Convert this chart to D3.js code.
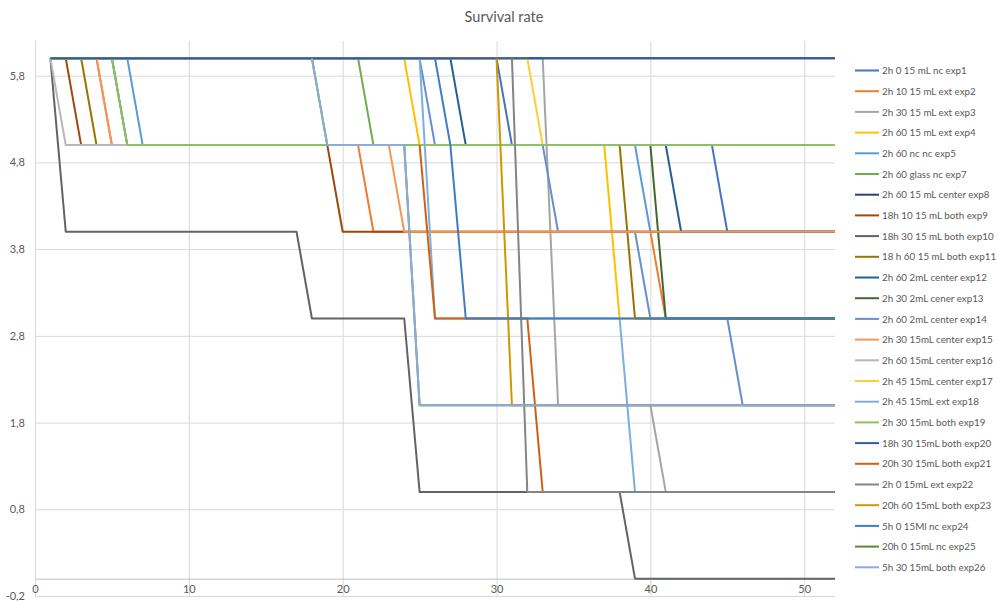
<!DOCTYPE html>
<html><head><meta charset="utf-8">
<script src="https://cdn.jsdelivr.net/npm/d3@7"></script>
<style>body{margin:0;background:#fff}svg{display:block}</style>
</head><body><svg id="c" width="997" height="601"></svg>
<script>
const categories = [1,2,3,4,5,6,7,8,9,10,11,12,13,14,15,16,17,18,19,20,21,22,23,24,25,26,27,28,29,30,31,32,33,34,35,36,37,38,39,40,41,42,43,44,45,46,47,48,49,50,51,52];
const seriesNames = ["2h 0 15 mL nc exp1","2h 10 15 mL ext exp2","2h 30 15 mL ext exp3","2h 60 15 mL ext exp4","2h 60 nc nc exp5","2h 60 glass nc exp7","2h 60 15 mL center exp8","18h 10 15 mL both exp9","18h 30 15 mL both exp10","18 h 60 15 mL both exp11","2h 60 2mL center exp12","2h 30 2mL cener exp13","2h 60 2mL center exp14","2h 30 15mL center exp15","2h 60 15mL center exp16","2h 45 15mL center exp17","2h 45 15mL ext exp18","2h 30 15mL both exp19","18h 30 15mL both exp20","20h 30 15mL both exp21","2h 0 15mL ext exp22","20h 60 15mL both exp23","5h 0 15Ml nc exp24","20h 0 15mL nc exp25","5h 30 15mL both exp26"];
const seriesColors = ["#4472C4","#ED7D31","#A5A5A5","#FFC000","#5B9BD5","#70AD47","#264478","#9E480E","#636363","#997300","#255E91","#43682B","#698ED0","#F1975A","#B7B7B7","#FFCD33","#7CAFDD","#8CC168","#335AA1","#D26012","#848484","#CC9A00","#3F7DC2","#5A8A39","#8FAADC"];
const yTicks = [-0.2,0.8,1.8,2.8,3.8,4.8,5.8];
const xTicks = [0,10,20,30,40,50];
const _ = null;

const exp1 = [6,6,6,6,6,6,6,6,6,6, 6,6,6,6,6,6,6,6,6,6, 6,6,6,6,6,6,6,6,6,6, 5,5,5,5,5,5,5,5,5,5, 5,5,5,5,4,4,4,4,4,4, 4,4];
const exp2 = [6,6,6,6,5,5,5,5,5,5, 5,5,5,5,5,5,5,5,5,5, 5,4,4,4,4,4,4,4,4,4, 4,4,4,4,4,4,4,4,4,4, 3,3,3,3,3,3,3,3,3,3, 3,3];
const exp3 = [6,6,6,6,6,6,6,6,6,6, 6,6,6,6,6,6,6,6,6,6, 6,6,6,6,6,6,6,6,6,6, 6,6,6,2,2,2,2,2,2,2, 1,1,1,1,1,1,1,1,1,1, 1,1];
const exp4 = [6,6,6,6,6,6,6,6,6,6, 6,6,6,6,6,6,6,6,6,6, 6,6,6,6,5,5,5,5,5,5, 5,5,5,5,5,5,5,3,3,3, 3,3,3,3,3,3,3,3,3,3, 3,3];
const exp5 = [6,6,6,6,6,6,5,5,5,5, 5,5,5,5,5,5,5,5,5,5, 5,5,5,5,5,5,5,5,5,5, 5,5,5,5,5,5,5,5,5,4, 4,4,4,4,4,4,4,4,4,4, 4,4];
const exp7 = [6,6,6,6,6,6,6,6,6,6, 6,6,6,6,6,6,6,6,6,6, 6,5,5,5,5,5,5,5,5,5, 5,5,5,5,5,5,5,5,5,5, 5,5,5,5,5,5,5,5,5,5, 5,5];
const exp8 = [6,6,6,6,6,6,6,6,6,6, 6,6,6,6,6,6,6,6,6,6, 6,6,6,6,6,6,6,6,6,6, 6,6,6,6,6,6,6,6,6,6, 6,6,6,6,6,6,6,6,6,6, 6,6];
const exp9 = [6,6,5,5,5,5,5,5,5,5, 5,5,5,5,5,5,5,5,5,4, 4,4,4,4,4,4,4,4,4,4, 4,4,4,4,4,4,4,4,4,4, 4,4,4,4,4,4,4,4,4,4, 4,4];
const exp10 = [6,4,4,4,4,4,4,4,4,4, 4,4,4,4,4,4,4,3,3,3, 3,3,3,3,1,1,1,1,1,1, 1,1,1,1,1,1,1,1,0,0, 0,0,0,0,0,0,0,0,0,0, 0,0];
const exp11 = [6,6,6,5,5,5,5,5,5,5, 5,5,5,5,5,5,5,5,5,5, 5,5,5,5,5,5,5,5,5,5, 5,5,5,5,5,5,5,5,3,3, 3,3,3,3,3,3,3,3,3,3, 3,3];
const exp12 = [6,6,6,6,6,6,6,6,6,6, 6,6,6,6,6,6,6,6,6,6, 6,6,6,6,6,6,6,5,5,5, 5,5,5,5,5,5,5,5,5,5, 5,4,4,4,4,4,4,4,4,4, 4,4];
const exp13 = [6,6,6,6,6,5,5,5,5,5, 5,5,5,5,5,5,5,5,5,5, 5,5,5,5,5,5,5,5,5,5, 5,5,5,5,5,5,5,5,5,5, 3,3,3,3,3,3,3,3,3,3, 3,3];
const exp14 = [6,6,6,6,6,6,6,6,6,6, 6,6,6,6,6,6,6,6,6,6, 6,6,6,6,6,5,5,5,5,5, 5,5,5,4,4,4,4,4,4,3, 3,3,3,3,3,2,2,2,2,2, 2,2];
const exp15 = [6,6,6,6,5,5,5,5,5,5, 5,5,5,5,5,5,5,5,5,5, 5,5,5,4,4,4,4,4,4,4, 4,4,4,4,4,4,4,4,4,4, 4,4,4,4,4,4,4,4,4,4, 4,4];
const exp16 = [6,5,5,5,5,5,5,5,5,5, 5,5,5,5,5,5,5,5,5,5, 5,5,5,5,5,5,5,5,5,5, 5,5,5,5,5,5,5,5,5,5, 5,5,5,5,5,5,5,5,5,5, 5,5];
const exp17 = [6,6,6,6,6,6,6,6,6,6, 6,6,6,6,6,6,6,6,6,6, 6,6,6,6,6,6,6,6,6,6, 6,6,5,5,5,5,5,5,5,5, 5,5,5,5,5,5,5,5,5,5, 5,5];
const exp18 = [6,6,6,6,6,6,6,6,6,6, 6,6,6,6,6,6,6,6,6,6, 6,6,6,6,6,3,3,3,3,3, 3,3,3,3,3,3,3,3,1,1, 1,1,1,1,1,1,1,1,1,1, 1,1];
const exp19 = [6,6,6,6,6,5,5,5,5,5, 5,5,5,5,5,5,5,5,5,5, 5,5,5,5,5,5,5,5,5,5, 5,5,5,5,5,5,5,5,5,5, 5,5,5,5,5,5,5,5,5,5, 5,5];
const exp20 = [6,6,6,6,6,6,6,6,6,6, 6,6,6,6,6,6,6,6,6,6, 6,6,6,6,6,6,6,6,6,6, 6,6,6,6,6,6,6,6,6,6, 6,6,6,6,6,6,6,6,6,6, 6,6];
const exp21 = [_,_,_,_,_,_,_,_,_,_, _,_,_,_,_,_,_,_,_,_, _,_,_,_,5,3,3,3,3,3, 3,3,1,1,1,1,1,1,1,1, 1,1,1,1,1,1,1,1,1,1, 1,1];
const exp22 = [_,_,_,_,_,_,_,_,_,_, _,_,_,_,_,_,_,_,_,_, _,_,_,_,_,_,_,_,_,_, 6,1,1,1,1,1,1,1,1,1, 1,1,1,1,1,1,1,1,1,1, 1,1];
const exp23 = [_,_,_,_,_,_,_,_,_,_, _,_,_,_,_,_,_,_,_,_, _,_,_,_,_,_,_,_,_,6, 2,2,2,2,2,2,2,2,2,2, 2,2,2,2,2,2,2,2,2,2, 2,2];
const exp24 = [_,_,_,_,_,_,_,_,_,_, _,_,_,_,_,_,_,_,_,_, _,_,_,_,_,6,5,3,3,3, 3,3,3,3,3,3,3,3,3,3, 3,3,3,3,3,3,3,3,3,3, 3,3];
const exp25 = [_,_,_,_,_,_,_,_,_,_, _,_,_,_,_,_,_,6,5,5, 5,5,5,5,2,2,2,2,2,2, 2,2,2,2,2,2,2,2,2,2, 2,2,2,2,2,2,2,2,2,2, 2,2];
const exp26 = [_,_,_,_,_,_,_,_,_,_, _,_,_,_,_,_,_,6,5,5, 5,5,5,5,2,2,2,2,2,2, 2,2,2,2,2,2,2,2,2,2, 2,2,2,2,2,2,2,2,2,2, 2,2];

const seriesValues = [exp1,exp2,exp3,exp4,exp5,exp7,exp8,exp9,exp10,exp11,exp12,exp13,exp14,exp15,exp16,exp17,exp18,exp19,exp20,exp21,exp22,exp23,exp24,exp25,exp26];

const svg = d3.select("#c");
const x = d3.scaleLinear().domain([0,52]).range([35,835]);
const y = d3.scaleLinear().domain([-0.2,6.2]).range([596,41]);
const font = "Lato, 'Open Sans', sans-serif";

svg.append("text").attr("x",504).attr("y",22).attr("text-anchor","middle")
  .attr("font-family",font).attr("font-size",14.5).attr("fill","#595959").text("Survival rate");

const gx = svg.append("g").attr("transform","translate(0,596)")
  .call(d3.axisBottom(x).tickValues(xTicks).tickSize(-555).tickFormat(""));
gx.select(".domain").remove();
gx.selectAll("line").attr("stroke","#d9d9d9").attr("stroke-width",1);

const gy = svg.append("g").attr("transform","translate(35,0)")
  .call(d3.axisLeft(y).tickValues(yTicks).tickSize(-800).tickFormat(""));
gy.select(".domain").remove();
gy.selectAll("line").attr("stroke","#d9d9d9").attr("stroke-width",1);

const fmt = v => d3.format(".1f")(v).replace(".",",").replace("\u2212","-");
const yl = svg.append("g").attr("transform","translate(35,0)")
  .call(d3.axisLeft(y).tickValues(yTicks).tickSize(0).tickPadding(10).tickFormat(fmt));
yl.select(".domain").remove();
yl.selectAll("text").attr("font-family",font).attr("font-size",11).attr("fill","#595959");

svg.append("g").attr("transform",`translate(0,${y(0)})`)
  .call(d3.axisBottom(x).tickValues([]).tickSizeOuter(0))
  .select(".domain").attr("stroke","#bfbfbf").attr("stroke-width",1);

const xl = svg.append("g").attr("transform","translate(0,585)")
  .call(d3.axisBottom(x).tickValues(xTicks).tickSize(0).tickPadding(0).tickFormat(d3.format("d")));
xl.select(".domain").remove();
xl.selectAll("text").attr("font-family",font).attr("font-size",11).attr("fill","#595959");

const line = d3.line().defined(d => d.v !== null).x(d => x(d.c)).y(d => y(d.v));
seriesValues.forEach((vals,i) => {
  svg.append("path")
    .datum(categories.map((c,j) => ({c, v: vals[j]})))
    .attr("fill","none").attr("stroke",seriesColors[i]).attr("stroke-width",2)
    .attr("stroke-linejoin","round").attr("d",line);
});

const lg = svg.append("g");
seriesNames.forEach((n,i) => {
  const yy = 70.5 + i*20.7;
  lg.append("line").attr("x1",855).attr("x2",879).attr("y1",yy).attr("y2",yy)
    .attr("stroke",seriesColors[i]).attr("stroke-width",2);
  lg.append("text").attr("x",882).attr("y",yy+3.6).attr("font-family",font)
    .attr("font-size",9.8).attr("fill","#595959").text(n);
});
</script></body></html>
